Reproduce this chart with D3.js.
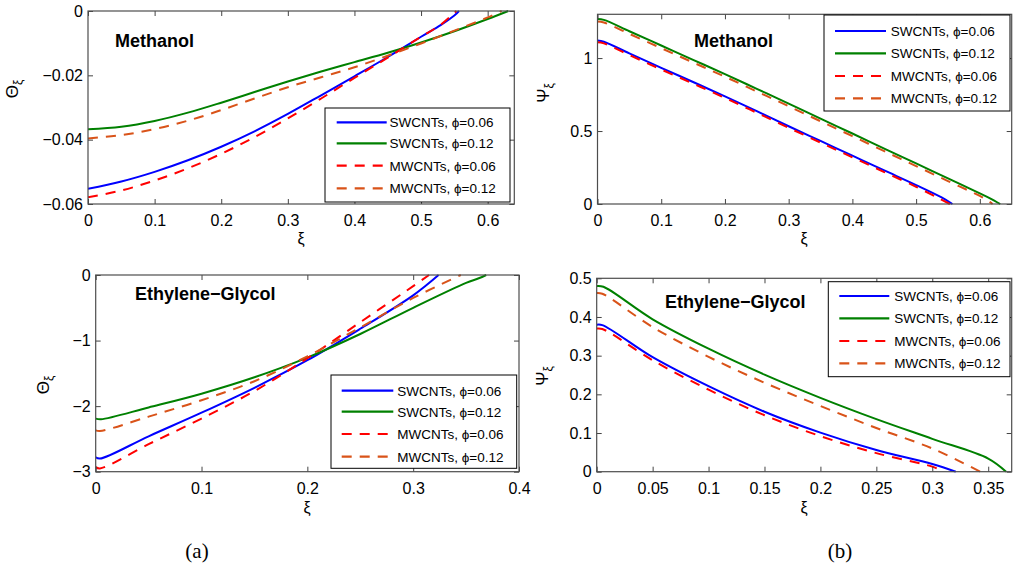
<!DOCTYPE html>
<html>
<head>
<meta charset="utf-8">
<script src="https://cdn.jsdelivr.net/npm/d3@7"></script>
<style>
  body { margin: 0; background: #fff; }
  svg { display: block; }
  text { font-family: "Liberation Sans", Arial, sans-serif; fill: #000; }
</style>
</head>
<body>
<svg id="fig" width="1014" height="572"></svg>
<script>
// ---------- series: [xi, value] pairs ----------
// Methanol, temperature gradient Θξ
const meohThetaSW06 = [[0,-0.0553],[0.05,-0.0530],[0.1,-0.0500],[0.15,-0.0464],[0.2,-0.0422],[0.25,-0.0374],[0.3,-0.0320],[0.35,-0.0262],[0.4,-0.0203],[0.45,-0.0143],[0.5,-0.0080],[0.53,-0.0043],[0.55,-0.0014],[0.557,0]];
const meohThetaSW12 = [[0,-0.0368],[0.05,-0.0360],[0.1,-0.0342],[0.15,-0.0316],[0.2,-0.0285],[0.25,-0.0252],[0.3,-0.0219],[0.35,-0.0188],[0.4,-0.0159],[0.45,-0.0130],[0.5,-0.0098],[0.55,-0.0063],[0.6,-0.0025],[0.631,0]];
const meohThetaMW06 = [[0,-0.0579],[0.05,-0.0558],[0.1,-0.0527],[0.15,-0.0489],[0.2,-0.0444],[0.25,-0.0392],[0.3,-0.0334],[0.35,-0.0272],[0.4,-0.0208],[0.45,-0.0145],[0.5,-0.0080],[0.53,-0.0042],[0.553,0]];
const meohThetaMW12 = [[0,-0.0396],[0.05,-0.0386],[0.1,-0.0367],[0.15,-0.0341],[0.2,-0.0308],[0.25,-0.0272],[0.3,-0.0237],[0.35,-0.0206],[0.4,-0.0175],[0.45,-0.0139],[0.5,-0.0101],[0.55,-0.0061],[0.6,-0.0020],[0.621,0]];

// Methanol, Ψξ
const meohPsiSW06 = [[0,1.121],[0.01,1.112],[0.05,1.032],[0.1,0.933],[0.15,0.836],[0.2,0.738],[0.25,0.636],[0.3,0.533],[0.35,0.432],[0.4,0.331],[0.45,0.230],[0.5,0.13],[0.54,0.045],[0.557,0]];
const meohPsiSW12 = [[0,1.268],[0.01,1.262],[0.05,1.184],[0.1,1.086],[0.15,0.988],[0.2,0.89],[0.25,0.789],[0.3,0.688],[0.35,0.585],[0.4,0.483],[0.45,0.38],[0.5,0.278],[0.55,0.175],[0.6,0.073],[0.616,0.039],[0.632,0]];
const meohPsiMW06 = [[0,1.108],[0.01,1.101],[0.05,1.021],[0.1,0.922],[0.15,0.825],[0.2,0.727],[0.25,0.625],[0.3,0.522],[0.35,0.421],[0.4,0.320],[0.45,0.219],[0.5,0.118],[0.535,0.04],[0.553,0]];
const meohPsiMW12 = [[0,1.25],[0.01,1.244],[0.05,1.166],[0.1,1.068],[0.15,0.970],[0.2,0.872],[0.25,0.771],[0.3,0.670],[0.35,0.567],[0.4,0.465],[0.45,0.362],[0.5,0.26],[0.55,0.157],[0.6,0.055],[0.61,0.03],[0.62,0]];

// Ethylene-Glycol, Θξ
const egThetaSW06 = [[0,-2.78],[0.004,-2.80],[0.05,-2.46],[0.1,-2.10],[0.15,-1.72],[0.2,-1.30],[0.25,-0.82],[0.3,-0.31],[0.324,0]];
const egThetaSW12 = [[0,-2.19],[0.005,-2.20],[0.05,-2.02],[0.1,-1.81],[0.15,-1.56],[0.2,-1.26],[0.25,-0.90],[0.3,-0.50],[0.35,-0.12],[0.362,-0.05],[0.369,0]];
const egThetaMW06 = [[0,-2.93],[0.004,-2.95],[0.05,-2.58],[0.1,-2.19],[0.15,-1.77],[0.2,-1.27],[0.25,-0.72],[0.3,-0.17],[0.315,0]];
const egThetaMW12 = [[0,-2.37],[0.004,-2.38],[0.05,-2.16],[0.1,-1.91],[0.15,-1.62],[0.2,-1.24],[0.25,-0.80],[0.3,-0.35],[0.345,0]];

// Ethylene-Glycol, Ψξ
const egPsiSW06 = [[0,0.380],[0.005,0.379],[0.05,0.296],[0.1,0.221],[0.15,0.155],[0.2,0.101],[0.25,0.056],[0.3,0.020],[0.321,0]];
const egPsiSW12 = [[0,0.480],[0.006,0.478],[0.05,0.394],[0.1,0.318],[0.15,0.251],[0.2,0.191],[0.25,0.136],[0.3,0.085],[0.35,0.034],[0.366,0]];
const egPsiMW06 = [[0,0.370],[0.005,0.369],[0.05,0.288],[0.1,0.212],[0.15,0.146],[0.2,0.092],[0.25,0.048],[0.3,0.013],[0.31,0]];
const egPsiMW12 = [[0,0.462],[0.005,0.460],[0.05,0.374],[0.1,0.297],[0.15,0.230],[0.2,0.170],[0.25,0.113],[0.3,0.060],[0.343,0]];

// legend entries, in drawing order
const seriesLabels = ["SWCNTs, \u03D5=0.06", "SWCNTs, \u03D5=0.12", "MWCNTs, \u03D5=0.06", "MWCNTs, \u03D5=0.12"];

// tick values
const xTicksMeOH = [0, 0.1, 0.2, 0.3, 0.4, 0.5, 0.6];
const xTicksEGTheta = [0, 0.1, 0.2, 0.3, 0.4];
const xTicksEGPsi = [0, 0.05, 0.1, 0.15, 0.2, 0.25, 0.3, 0.35];
const yTicksMeOHTheta = [-0.06, -0.04, -0.02, 0];
const yTicksMeOHPsi = [0, 0.5, 1];
const yTicksEGTheta = [-3, -2, -1, 0];
const yTicksEGPsi = [0, 0.1, 0.2, 0.3, 0.4, 0.5];

// ---------- styling ----------
const colors = ["#0000ff", "#008000", "#ff0000", "#d95319"];
const dashes = [null, null, "10,8", "10,8"];

const panels = [
  { box: [88, 11, 514.3, 204], xDom: [0, 0.64], yDom: [-0.06, 0],
    xTicks: xTicksMeOH, yTicks: yTicksMeOHTheta,
    series: [meohThetaSW06, meohThetaSW12, meohThetaMW06, meohThetaMW12],
    title: "Methanol", titleAt: [115, 47], yName: "\u0398", yLabAt: [18, 89], xLabAt: [301, 244],
    legend: { x: 325, y: 108, w: 185, h: 94, rows: [122.3, 143.3, 165.7, 188.3], l0: 336.7, l1: 386.7, tx: 389.5 } },
  { box: [597.5, 14.3, 1011.7, 204], xDom: [0, 0.65], yDom: [0, 1.3],
    xTicks: xTicksMeOH, yTicks: yTicksMeOHPsi,
    series: [meohPsiSW06, meohPsiSW12, meohPsiMW06, meohPsiMW12],
    title: "Methanol", titleAt: [694, 47], yName: "\u03A8", yLabAt: [549, 93], xLabAt: [804, 244],
    legend: { x: 824, y: 15, w: 186, h: 96, rows: [31, 53.3, 76, 98.3], l0: 835, l1: 886, tx: 890.7 } },
  { box: [95.7, 275, 519, 471.7], xDom: [0, 0.4], yDom: [-3, 0],
    xTicks: xTicksEGTheta, yTicks: yTicksEGTheta,
    series: [egThetaSW06, egThetaSW12, egThetaMW06, egThetaMW12],
    title: "Ethylene\u2212Glycol", titleAt: [135, 300], yName: "\u0398", yLabAt: [49, 385], xLabAt: [307, 513],
    legend: { x: 331, y: 375, w: 185.7, h: 93.3, rows: [390.7, 411.7, 434, 456.7], l0: 341.7, l1: 393.3, tx: 397.3 } },
  { box: [596.7, 278.3, 1011.7, 471.7], xDom: [0, 0.371], yDom: [0, 0.5],
    xTicks: xTicksEGPsi, yTicks: yTicksEGPsi,
    series: [egPsiSW06, egPsiSW12, egPsiMW06, egPsiMW12],
    title: "Ethylene\u2212Glycol", titleAt: [665, 308], yName: "\u03A8", yLabAt: [548, 376], xLabAt: [804, 513],
    legend: { x: 828.3, y: 281.7, w: 181.7, h: 95, rows: [296, 318.3, 341, 363.3], l0: 839.3, l1: 889.3, tx: 894.3 } }
];

const svg = d3.select("#fig");
svg.append("rect").attr("width", 1014).attr("height", 572).attr("fill", "#fff");
const fmt = d3.format("~g");

panels.forEach((p, i) => {
  const [x0, y0, x1, y1] = p.box;
  const x = d3.scaleLinear().domain(p.xDom).range([x0, x1]);
  const y = d3.scaleLinear().domain(p.yDom).range([y1, y0]);
  const g = svg.append("g");

  const clipId = "clip" + i;
  svg.append("clipPath").attr("id", clipId)
    .append("rect").attr("x", x0).attr("y", y0 - 1).attr("width", x1 - x0).attr("height", y1 - y0 + 2);

  // curves
  const line = d3.line().x(d => x(d[0])).y(d => y(d[1])).curve(d3.curveCatmullRom.alpha(0.5));
  const curves = g.append("g").attr("clip-path", `url(#${clipId})`);
  p.series.forEach((s, k) => {
    curves.append("path").datum(s)
      .attr("d", line)
      .attr("fill", "none")
      .attr("stroke", colors[k])
      .attr("stroke-width", 2)
      .attr("stroke-dasharray", dashes[k]);
  });

  // axes with inward ticks on all four sides
  const axStyle = sel => {
    sel.select(".domain").remove();
    sel.selectAll(".tick line").attr("stroke", "#444").attr("stroke-width", 1);
    sel.selectAll(".tick text").style("font-size", "16px").attr("fill", "#000");
  };
  g.append("g").attr("transform", `translate(0,${y1})`)
    .call(d3.axisBottom(x).tickValues(p.xTicks).tickSizeInner(-5).tickSizeOuter(0).tickPadding(11).tickFormat(fmt))
    .call(axStyle);
  g.append("g").attr("transform", `translate(0,${y0})`)
    .call(d3.axisTop(x).tickValues(p.xTicks).tickSizeInner(-5).tickSizeOuter(0).tickFormat(""))
    .call(axStyle);
  g.append("g").attr("transform", `translate(${x0},0)`)
    .call(d3.axisLeft(y).tickValues(p.yTicks).tickSizeInner(-5).tickSizeOuter(0).tickPadding(5).tickFormat(fmt))
    .call(axStyle);
  g.append("g").attr("transform", `translate(${x1},0)`)
    .call(d3.axisRight(y).tickValues(p.yTicks).tickSizeInner(-5).tickSizeOuter(0).tickFormat(""))
    .call(axStyle);

  // frame
  g.append("rect").attr("x", x0).attr("y", y0).attr("width", x1 - x0).attr("height", y1 - y0)
    .attr("fill", "none").attr("stroke", "#4d4d4d").attr("stroke-width", 1.2);

  // panel title
  g.append("text").attr("x", p.titleAt[0]).attr("y", p.titleAt[1])
    .style("font-size", "18px").style("font-weight", "bold").text(p.title);

  // axis labels
  const yl = g.append("text")
    .attr("transform", `translate(${p.yLabAt[0]},${p.yLabAt[1]}) rotate(-90)`)
    .attr("text-anchor", "middle");
  yl.append("tspan").style("font-size", "17px").text(p.yName);
  yl.append("tspan").style("font-size", "12px").attr("dy", 4).text("\u03BE");

  g.append("text").attr("x", p.xLabAt[0]).attr("y", p.xLabAt[1])
    .attr("text-anchor", "middle").style("font-size", "16px").text("\u03BE");

  // legend
  const L = p.legend;
  const lg = g.append("g");
  lg.append("rect").attr("x", L.x).attr("y", L.y).attr("width", L.w).attr("height", L.h)
    .attr("fill", "#fff").attr("stroke", "#000").attr("stroke-width", 1);
  seriesLabels.forEach((lab, k) => {
    lg.append("line").attr("x1", L.l0).attr("x2", L.l1).attr("y1", L.rows[k]).attr("y2", L.rows[k])
      .attr("stroke", colors[k]).attr("stroke-width", 2.2).attr("stroke-dasharray", dashes[k]);
    lg.append("text").attr("x", L.tx).attr("y", L.rows[k] + 5)
      .style("font-size", "13.5px").text(lab);
  });
});

// sub-figure captions
svg.append("text").attr("x", 197).attr("y", 558).attr("text-anchor", "middle")
  .style("font-family", "'Liberation Serif', 'Times New Roman', serif").style("font-size", "21px").text("(a)");
svg.append("text").attr("x", 840).attr("y", 558).attr("text-anchor", "middle")
  .style("font-family", "'Liberation Serif', 'Times New Roman', serif").style("font-size", "21px").text("(b)");
</script>
</body>
</html>
